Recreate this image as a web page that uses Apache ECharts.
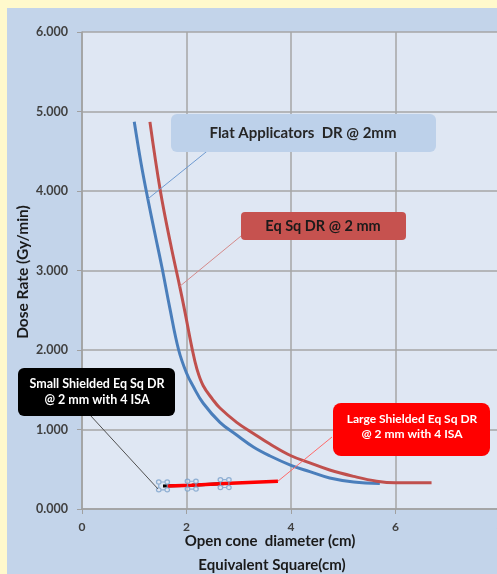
<!DOCTYPE html>
<html>
<head>
<meta charset="utf-8">
<script src="https://cdn.jsdelivr.net/npm/echarts@6/dist/echarts.min.js"></script>
<style>
  html, body { margin: 0; padding: 0; background: #FFF9CC; }
  #panel { position: absolute; left: 7px; top: 8px; right: 0; bottom: 0; background: #C3D4EA; }
  #chart { position: absolute; left: 0; top: 0; width: 497px; height: 574px; }
</style>
</head>
<body>
<div id="panel"></div>
<div id="chart"></div>
<script>
// Flat applicators, dose rate at 2 mm depth
const flatDiameter = [1.0, 1.13, 1.26, 1.4, 1.53, 1.68, 1.85, 2.0, 2.13, 2.32, 2.64, 2.96, 3.28, 3.59, 4.0, 4.36, 4.74, 5.2, 5.7];
const flatDose     = [4.87, 4.35, 3.9, 3.45, 3.04, 2.53, 2.0, 1.71, 1.54, 1.33, 1.09, 0.93, 0.78, 0.67, 0.55, 0.47, 0.39, 0.34, 0.32];

// Equivalent-square dose rate at 2 mm
const eqDiameter = [1.3, 1.5, 1.7, 1.87, 1.97, 2.1, 2.2, 2.32, 2.5, 2.64, 2.96, 3.28, 3.59, 4.0, 4.36, 4.74, 5.2, 5.64, 6.0, 6.69];
const eqDose     = [4.87, 4.0, 3.32, 2.8, 2.48, 2.04, 1.76, 1.55, 1.38, 1.27, 1.09, 0.95, 0.82, 0.67, 0.58, 0.49, 0.41, 0.35, 0.33, 0.33];

// Shielded applicators with 4 ISA
const smallDiameter = [1.55, 2.1, 2.73];
const smallDose     = [0.29, 0.30, 0.32];
const largeDiameter = [1.63, 2.1, 2.73, 3.75];
const largeDose     = [0.29, 0.30, 0.32, 0.35];

const yTicks = [0, 1, 2, 3, 4, 5, 6];
const xTicks = [0, 2, 4, 6, 8];

const FONT = 'Lato, "Open Sans", sans-serif';
const zip = (xs, ys) => xs.map((x, i) => [x, ys[i]]);

const handleSymbol = 'path://M0 3.5a3.5 3.5 0 1 0 7 0a3.5 3.5 0 1 0 -7 0z' +
  'M13 3.5a3.5 3.5 0 1 0 7 0a3.5 3.5 0 1 0 -7 0z' +
  'M0 16.5a3.5 3.5 0 1 0 7 0a3.5 3.5 0 1 0 -7 0z' +
  'M13 16.5a3.5 3.5 0 1 0 7 0a3.5 3.5 0 1 0 -7 0z' +
  'M7 3.5L13 3.5M7 16.5L13 16.5M3.5 7L3.5 13M16.5 7L16.5 13';

const chart = echarts.init(document.getElementById('chart'), null, { renderer: 'canvas' });

const option = {
  animation: false,
  grid: {
    left: 82, top: 32, width: 418, bottom: 65,
    containLabel: false, outerBoundsMode: 'none',
    show: true, backgroundColor: '#DFE7F3', borderWidth: 0
  },
  xAxis: {
    type: 'value', min: xTicks[0], max: xTicks[xTicks.length - 1], interval: 2,
    axisLine: { show: true, lineStyle: { color: '#A0A0A0', width: 1.5 } },
    axisTick: { show: true, length: 5, lineStyle: { color: '#A0A0A0' } },
    axisLabel: { margin: 12, color: '#404040', fontFamily: FONT, fontWeight: 'bold', fontSize: 12 },
    splitLine: { show: true, lineStyle: { color: '#A6A6A6', width: 1.5 } }
  },
  yAxis: {
    type: 'value', min: yTicks[0], max: yTicks[yTicks.length - 1], interval: 1,
    axisLine: { show: true, lineStyle: { color: '#A0A0A0', width: 1.5 } },
    axisTick: { show: true, length: 5, lineStyle: { color: '#A0A0A0' } },
    axisLabel: {
      margin: 14, color: '#404040', fontFamily: FONT, fontWeight: 'bold', fontSize: 12.5,
      formatter: v => v.toFixed(3)
    },
    splitLine: { show: true, lineStyle: { color: '#A6A6A6', width: 1.5 } }
  },
  series: [
    {
      name: 'Flat Applicators DR @ 2mm', type: 'line', data: zip(flatDiameter, flatDose),
      smooth: 0.4, showSymbol: false, symbol: 'none', z: 3,
      lineStyle: { color: '#4A7EBB', width: 3 }
    },
    {
      name: 'Eq Sq DR @ 2 mm', type: 'line', data: zip(eqDiameter, eqDose),
      smooth: 0.4, showSymbol: false, symbol: 'none', z: 3,
      lineStyle: { color: '#C0504D', width: 3 }
    },
    {
      name: 'Small Shielded Eq Sq DR @ 2 mm with 4 ISA', type: 'line', data: zip(smallDiameter, smallDose),
      symbol: 'none', z: 4,
      lineStyle: { color: '#000000', width: 3 }
    },
    {
      name: 'Large Shielded Eq Sq DR @ 2 mm with 4 ISA', type: 'line', data: zip(largeDiameter, largeDose),
      symbol: 'none', z: 5,
      lineStyle: { color: '#FF0000', width: 3.5 }
    },
    {
      name: 'Small Shielded points', type: 'scatter', data: zip(smallDiameter, smallDose),
      symbol: handleSymbol, symbolSize: [13, 12], z: 6,
      itemStyle: { color: 'rgba(223,231,243,0.5)', borderColor: '#7BA1CB', borderWidth: 1.2 }
    }
  ]
};
chart.setOption(option);

// Callouts: boxes with leader lines pointing at points of the series
const px = (x, y) => chart.convertToPixel({ gridIndex: 0 }, [x, y]);
const flatAnchor = px(flatDiameter[2], flatDose[2]);
const eqAnchor = px(eqDiameter[3], eqDose[3]);
const smallAnchor = px(smallDiameter[0], smallDose[0]);
const largeAnchor = px(largeDiameter[3], largeDose[3]);

function leader(from, to, color) {
  return { type: 'line', z: 20, shape: { x1: from[0], y1: from[1], x2: to[0], y2: to[1] },
           style: { stroke: color, lineWidth: 1 } };
}
function box(x, y, w, h, r, fill) {
  return { type: 'rect', z: 21, shape: { x: x, y: y, width: w, height: h, r: r }, style: { fill: fill } };
}
function label(x, y, text, color, size, lh) {
  return { type: 'text', z: 22, x: x, y: y,
           style: { text: text, fill: color, align: 'center', verticalAlign: 'middle',
                    font: 'bold ' + size + 'px ' + FONT, lineHeight: lh || size + 3 } };
}

chart.setOption({
  graphic: [
    leader([211, 148], flatAnchor, '#6F9BD1'),
    box(171, 114, 265, 38, 6, '#BDD1EA'),
    label(303, 133, 'Flat Applicators  DR @ 2mm', '#262626', 15),

    leader([241, 236], eqAnchor, '#D48A8A'),
    box(241, 212, 165, 28, 4, '#C6524F'),
    label(323, 226, 'Eq Sq DR @ 2 mm', '#1A1A1A', 14.5),

    leader([90, 415], [smallAnchor[0] - 5, smallAnchor[1] + 3], '#505050'),
    box(18, 368, 157, 48, 6, '#000000'),
    label(97, 392, 'Small Shielded Eq Sq DR\n@ 2 mm with 4 ISA', '#FFFFFF', 12.5, 16),

    leader([332, 437], largeAnchor, '#FF6A6A'),
    box(333, 403, 157, 53, 8, '#FF0000'),
    label(412, 427, 'Large Shielded Eq Sq DR\n@ 2 mm with 4 ISA', '#FFFFFF', 12, 15),

    label(270, 541, 'Open cone  diameter (cm)', '#1A1A1A', 15),
    label(272, 565, 'Equivalent Square(cm)', '#1A1A1A', 15),
    { type: 'text', z: 22, x: 23, y: 272, rotation: Math.PI / 2,
      style: { text: 'Dose Rate (Gy/min)', fill: '#1A1A1A', align: 'center', verticalAlign: 'middle',
               font: 'bold 15.5px ' + FONT } }
  ]
});
</script>
</body>
</html>
